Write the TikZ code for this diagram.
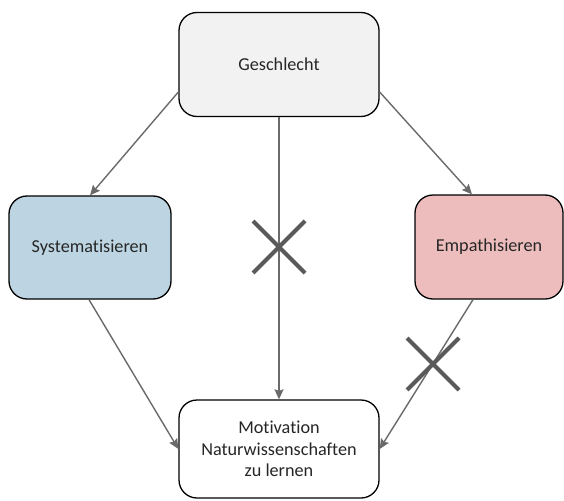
\documentclass[tikz,border=0pt]{standalone}
\usepackage{fontspec}
\setmainfont{Carlito}[Ligatures=NoCommon]
\usetikzlibrary{arrows.meta}
\definecolor{boxgray}{HTML}{F2F2F2}
\definecolor{boxblue}{HTML}{BDD5E2}
\definecolor{boxred}{HTML}{EDBDBE}
\definecolor{linegray}{HTML}{6A6A6A}
\definecolor{crossgray}{HTML}{5A5A5A}
\tikzset{
  roundbox/.style={draw=black, line width=1.3pt, rounded corners=18pt, align=center,
    font=\fontsize{18.2}{21.5}\selectfont, inner sep=0pt, text=black!85},
  conn/.style={draw=linegray, line width=1.4pt, -{Stealth[length=10pt,width=9pt,inset=1.5pt]}},
  crossline/.style={draw=crossgray, line width=4pt}
}
\begin{document}
\begin{tikzpicture}[x=1pt,y=-1pt]
\useasboundingbox (0,0) rectangle (564,500);
\node[roundbox, fill=boxgray, minimum width=200pt, minimum height=104pt] (g) at (279,64.5) {Geschlecht};
\node[roundbox, fill=boxblue, minimum width=162pt, minimum height=103pt] (s) at (90,247.5) {Systematisieren};
\node[roundbox, fill=boxred, minimum width=148pt, minimum height=104pt] (e) at (489,247) {Empathisieren};
\node[roundbox, fill=white, minimum width=200pt, minimum height=98pt] (m) at (279,449) {Motivation\\Naturwissenschaften\\zu lernen};
\draw[conn] ([yshift=-27.5pt]g.west) -- (s.north);
\draw[conn] ([yshift=-27.5pt]g.east) -- ([xshift=-17pt]e.north);
\draw[conn] (g.south) -- (m.north);
\draw[conn] ([xshift=-1pt]s.south) -- (m.west);
\draw[conn] ([xshift=-16pt]e.south) -- (m.east);
\coordinate (c1) at (279,247);
\coordinate (c2) at (433,364);
\draw[crossline] ([shift={(-26pt,26pt)}]c1) -- ([shift={(26pt,-26pt)}]c1);
\draw[crossline] ([shift={(-26pt,-26pt)}]c1) -- ([shift={(26pt,26pt)}]c1);
\draw[crossline] ([shift={(-26pt,26pt)}]c2) -- ([shift={(26pt,-26pt)}]c2);
\draw[crossline] ([shift={(-26pt,-26pt)}]c2) -- ([shift={(26pt,26pt)}]c2);
\end{tikzpicture}
\end{document}
